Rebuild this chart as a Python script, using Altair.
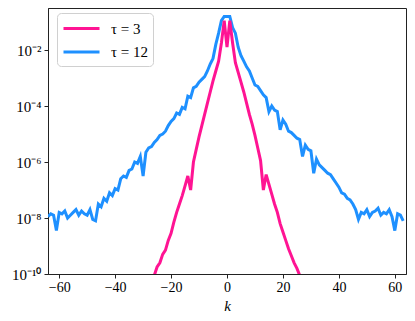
import altair as alt
import pandas as pd

# wavenumber grid
k_blue = list(range(-64, 64))
# log10 of the spectrum for tau = 12
log_blue = [
    -7.95, -7.85, -7.90, -8.45, -7.80, -7.85, -7.75, -8.00, -7.90, -7.80,
    -7.70, -7.90, -7.75, -7.85, -7.90, -7.70, -8.05, -8.10, -7.50, -7.60,
    -7.30, -7.40, -7.10, -7.20, -6.95, -7.00, -6.60, -6.50, -6.55, -6.30,
    -6.25, -6.00, -6.05, -5.80, -6.50, -5.65, -5.50, -5.45, -5.30, -5.20,
    -5.05, -5.00, -4.90, -4.70, -4.55, -4.45, -4.25, -4.30, -4.05, -4.10,
    -3.65, -3.70, -3.35, -3.30, -3.15, -3.05, -2.95, -2.75, -2.50, -2.30,
    -1.80, -1.40, -0.95, -0.80, -0.80, -0.80, -1.20, -1.40, -1.90, -2.20,
    -2.40, -2.60, -2.75, -3.00, -3.25, -3.30, -3.45, -3.60, -3.70, -4.20,
    -4.00, -4.15, -4.20, -4.85, -4.50, -4.65, -4.90, -4.95, -5.05, -5.15,
    -5.20, -5.80, -5.40, -5.55, -5.60, -6.40, -5.90, -6.10, -6.20, -6.30,
    -6.40, -6.45, -6.60, -6.75, -6.90, -7.10, -7.15, -7.30, -7.35, -7.50,
    -7.70, -8.05, -7.80, -7.85, -7.70, -7.95, -7.80, -7.75, -7.65, -7.90,
    -7.80, -7.85, -7.70, -7.95, -8.45, -7.85, -7.90, -8.10,
]

k_pink = list(range(-28, 29))
# log10 of the spectrum for tau = 3
log_pink = [
    -10.60, -10.30, -10.05, -9.75, -9.60, -9.30, -9.15, -8.80, -8.55, -8.15,
    -7.80, -7.50, -7.20, -6.85, -6.50, -7.00, -6.00, -5.55, -5.10, -4.70,
    -4.30, -3.90, -3.50, -3.10, -2.75, -2.40, -1.75, -0.95, -1.90, -0.95,
    -1.75, -2.45, -2.80, -3.15, -3.50, -3.90, -4.30, -4.65, -5.05, -5.50,
    -5.95, -7.00, -6.45, -6.80, -7.15, -7.50, -7.80, -8.20, -8.50, -8.80,
    -9.10, -9.35, -9.60, -9.80, -10.05, -10.30, -10.60,
]

series_names = ["τ = 3", "τ = 12"]
series_colors = ["#ff1493", "#1e90ff"]
x_ticks = [-60, -40, -20, 0, 20, 40, 60]
y_ticks = [1e-10, 1e-8, 1e-6, 1e-4, 1e-2]

df_blue = pd.DataFrame({"k": k_blue, "v": [10 ** e for e in log_blue], "s": series_names[1]})
df_pink = pd.DataFrame({"k": k_pink, "v": [10 ** e for e in log_pink], "s": series_names[0]})

FONT = "Liberation Serif"

label_expr = ("{'-10':'10⁻¹⁰','-8':'10⁻⁸','-6':'10⁻⁶','-4':'10⁻⁴','-2':'10⁻²'}"
              "['' + round(log(datum.value)/LN10)]")

x_enc = alt.X("k:Q", scale=alt.Scale(domain=[-64, 64], nice=False, zero=False),
              axis=alt.Axis(values=x_ticks, title="k", titleFontStyle="italic",
                            titleFontWeight="normal", titleFontSize=15,
                            titleY=31, titleBaseline="middle",
                            grid=False, tickSize=4, labelPadding=2, labelFontSize=14))
y_enc = alt.Y("v:Q", scale=alt.Scale(type="log", domain=[1e-10, 10 ** -0.5], nice=False),
              axis=alt.Axis(values=y_ticks, labelExpr=label_expr, title=None,
                            grid=False, tickSize=4, labelPadding=3))
color_enc = alt.Color("s:N", scale=alt.Scale(domain=series_names, range=series_colors),
                      legend=alt.Legend(title=None, orient="none", legendX=9, legendY=5,
                                        symbolType="M-1,0H3", symbolSize=324,
                                        symbolStrokeWidth=3, labelFontSize=15,
                                        labelFont=FONT, labelOffset=28, rowPadding=4.6,
                                        padding=5, strokeColor="#d0d0d0",
                                        cornerRadius=4, fillColor="white"))

blue = alt.Chart(df_blue).mark_line(strokeWidth=3, clip=True).encode(x=x_enc, y=y_enc, color=color_enc)
pink = alt.Chart(df_pink).mark_line(strokeWidth=3, clip=True).encode(x=x_enc, y=y_enc, color=color_enc)

chart = alt.layer(blue, pink).properties(
    width=358, height=266, autosize="none",
    padding={"left": 40, "top": 0, "right": 1, "bottom": 39},
).configure_view(stroke="#222222", strokeWidth=1).configure_axis(
    labelFont=FONT, titleFont=FONT, labelFontSize=15, labelColor="black",
    titleColor="black", domainColor="#222222", tickColor="#222222",
).configure_legend(labelColor="black")

chart.save("out.html", embed_options={"renderer": "svg", "actions": False})
